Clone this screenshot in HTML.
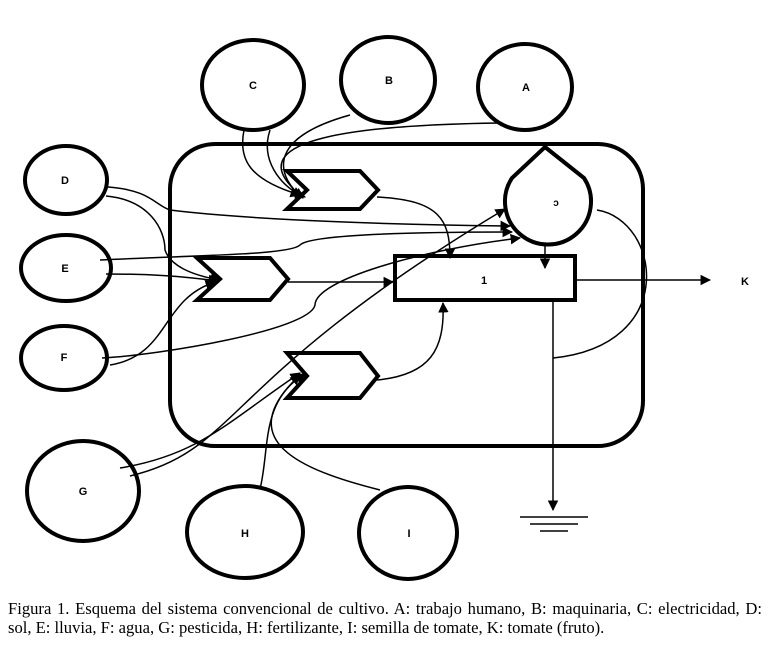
<!DOCTYPE html>
<html><head><meta charset="utf-8"><style>
html,body{margin:0;padding:0;background:#fff;width:784px;height:656px;overflow:hidden}
.cap{position:absolute;left:8px;width:754px;font-family:"Liberation Serif",serif;font-size:16.6px;line-height:19px;color:#000;white-space:nowrap}
.l1{top:599px;text-align:justify;text-align-last:justify;white-space:normal}
.l2{top:618px}
</style></head><body>
<svg width="784" height="656" style="position:absolute;left:0;top:0" xmlns="http://www.w3.org/2000/svg">
<defs><marker id="a" viewBox="0 0 10 10" refX="9" refY="5" markerWidth="7" markerHeight="7" orient="auto"><path d="M0,0L10,5L0,10z" fill="#000"/></marker></defs>
<g fill="none" stroke="#000" stroke-width="4">
<ellipse cx="253" cy="85" rx="51" ry="45"/>
<ellipse cx="388" cy="80" rx="47" ry="43"/>
<ellipse cx="525" cy="87" rx="47" ry="43"/>
<ellipse cx="66" cy="180" rx="41" ry="34"/>
<ellipse cx="66" cy="268" rx="45" ry="33"/>
<ellipse cx="64" cy="358" rx="43" ry="32"/>
<ellipse cx="83" cy="491" rx="56" ry="50"/>
<ellipse cx="245" cy="532" rx="58" ry="46"/>
<ellipse cx="408" cy="533" rx="49" ry="46"/>
<rect x="170" y="144" width="473" height="302" rx="45"/>
<path d="M287,171H360L378,190L360,209H287L307,190Z"/>
<path d="M197,258H270L288,279L270,300H197L220,279Z"/>
<path d="M287,353H360L378,376L360,398H287L307,376Z"/>
<rect x="395" y="256" width="180" height="44"/>
<path d="M545,147L584,178A43,43 0 1 1 512,178Z"/>
</g>
<g fill="none" stroke="#000" stroke-width="1.5">
<path d="M244,130C238,160 250,180 300,195" marker-end="url(#a)"/>
<path d="M270,130C260,160 280,185 302,196" marker-end="url(#a)"/>
<path d="M350,115C260,140 280,180 303,198" marker-end="url(#a)"/>
<path d="M500,123C350,125 250,140 290,185 295,192 300,195 305,197" marker-end="url(#a)"/>
<path d="M377,197C440,200 450,220 450,258" marker-end="url(#a)"/>
<path d="M108,187C150,190 155,205 170,210 250,220 400,225 510,226" marker-end="url(#a)"/>
<path d="M106,196C150,200 165,230 165,250 170,265 190,275 220,280" marker-end="url(#a)"/>
<path d="M100,260C200,255 290,255 300,245 310,235 400,232 512,232" marker-end="url(#a)"/>
<path d="M106,274C150,274 180,276 218,281" marker-end="url(#a)"/>
<path d="M102,358C160,355 310,330 315,305 315,280 420,250 520,238" marker-end="url(#a)"/>
<path d="M110,365C170,355 160,300 215,282" marker-end="url(#a)"/>
<path d="M288,282H393" marker-end="url(#a)"/>
<path d="M120,468C200,455 230,420 300,373" marker-end="url(#a)"/>
<path d="M130,476C240,450 220,380 505,209" marker-end="url(#a)"/>
<path d="M260,489C270,450 260,400 305,374" marker-end="url(#a)"/>
<path d="M380,490C300,470 230,440 300,375" marker-end="url(#a)"/>
<path d="M377,380C430,375 445,350 443,303" marker-end="url(#a)"/>
<path d="M545,245V268" marker-end="url(#a)"/>
<path d="M575,280H710" marker-end="url(#a)"/>
<path d="M597,210C660,220 680,345 553,358"/>
<path d="M553,300V510" marker-end="url(#a)"/>
<path d="M520,517H588M530,524H578M540,531H568"/>
</g>
<g font-family="Liberation Sans,sans-serif" font-size="11" font-weight="bold" text-anchor="middle">
<text x="253" y="89">C</text><text x="389" y="84">B</text><text x="526" y="91">A</text>
<text x="65" y="184">D</text><text x="65" y="272">E</text><text x="64" y="361">F</text>
<text x="83" y="495">G</text><text x="245" y="537">H</text><text x="409" y="537">I</text>
<text x="484" y="284">1</text><text x="745" y="285">K</text>
<text x="556" y="206" font-size="10">ↄ</text>
</g>
</svg>
<div class="cap l1">Figura 1. Esquema del sistema convencional de cultivo. A: trabajo humano, B: maquinaria, C: electricidad, D:</div>
<div class="cap l2">sol, E: lluvia, F: agua, G: pesticida, H: fertilizante, I: semilla de tomate, K: tomate (fruto).</div>
</body></html>
